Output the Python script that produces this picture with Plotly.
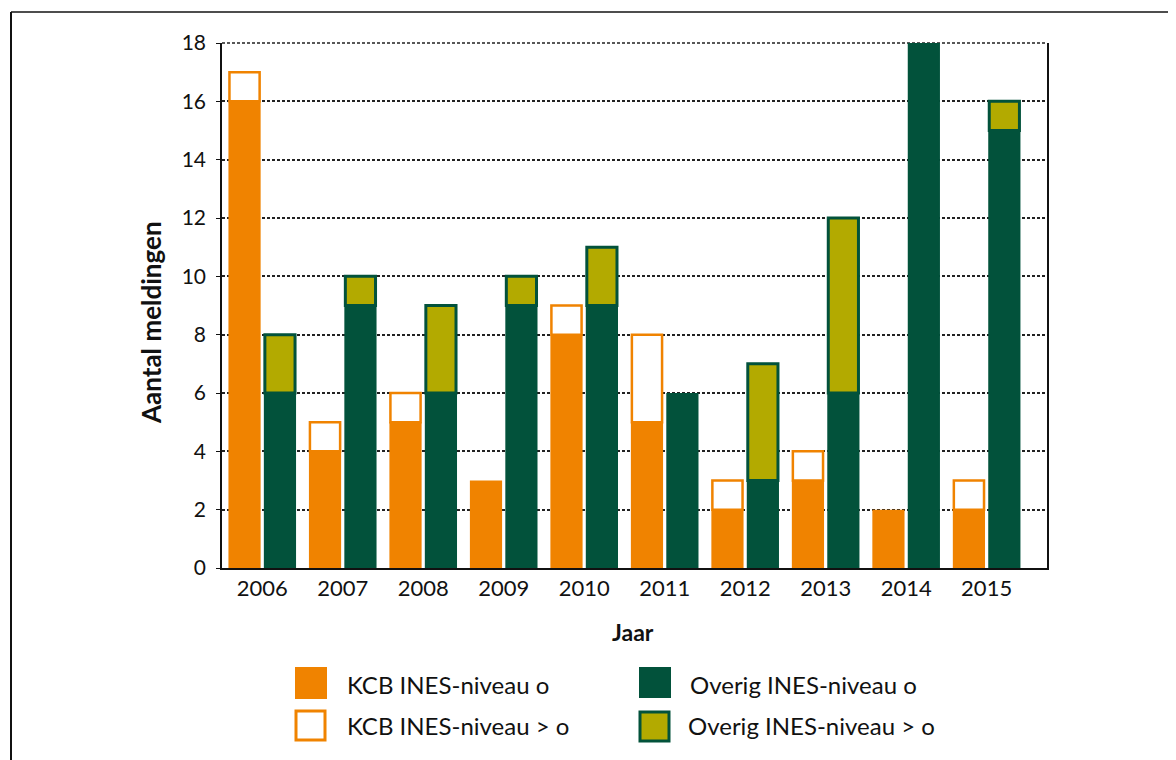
import plotly.graph_objects as go

years = ["2006", "2007", "2008", "2009", "2010", "2011", "2012", "2013", "2014", "2015"]
kcb_0 = [16, 4, 5, 3, 8, 5, 2, 3, 2, 2]
kcb_gt0 = [1, 1, 1, 0, 1, 3, 1, 1, 0, 1]
overig_0 = [6, 9, 6, 9, 9, 6, 3, 6, 18, 15]
overig_gt0 = [2, 1, 3, 1, 2, 0, 4, 6, 0, 1]
y_ticks = [0, 2, 4, 6, 8, 10, 12, 14, 16, 18]

legend_labels = ["KCB INES-niveau o", "KCB INES-niveau > o",
                 "Overig INES-niveau o", "Overig INES-niveau > o"]

ORANGE = "#F08300"
GREEN = "#02523B"
OLIVE = "#B3AA00"
FONT = "Lato"

xs = list(range(len(years)))
BW = 0.4


def nz(v):
    return [None if a == 0 else a for a in v]


fig = go.Figure()
fig.add_trace(go.Bar(x=xs, y=kcb_0, width=BW, offset=-0.42,
                     marker=dict(color=ORANGE, line=dict(width=0)),
                     name=legend_labels[0]))
fig.add_trace(go.Bar(x=xs, y=nz(kcb_gt0), base=kcb_0, width=BW - 0.025, offset=-0.42 + 0.0125,
                     marker=dict(color="white", line=dict(color=ORANGE, width=2.5)),
                     name=legend_labels[1]))
fig.add_trace(go.Bar(x=xs, y=overig_0, width=BW, offset=0.02,
                     marker=dict(color=GREEN, line=dict(width=0)),
                     name=legend_labels[2]))
fig.add_trace(go.Bar(x=xs, y=nz(overig_gt0), base=overig_0, width=BW - 0.025, offset=0.02 + 0.0125,
                     marker=dict(color=OLIVE, line=dict(color=GREEN, width=3)),
                     name=legend_labels[3]))

# The page has an 8px body margin: screen px = figure px + 8
OFF = 8
FW, FH = 1176 - OFF, 760 - OFF
# Plot area on screen: x 222..1047 px, y 43..568 px
L, R, T, B = 222, 1047, 43, 568
W, H = R - L, B - T


def px(x):
    return (x - L) / W


def py(y):
    return (B - y) / H


shapes = [
    # top gridline (plotly culls the gridline at the range edge)
    dict(type="line", xref="paper", yref="paper", x0=0, x1=1, y0=1, y1=1,
         line=dict(color="#222", width=1.5, dash="3px,2px"), layer="below"),
    dict(type="line", xref="paper", yref="paper", x0=px(11), x1=px(1190), y0=py(12), y1=py(12),
         line=dict(color="#4d4d4d", width=2)),
    dict(type="line", xref="paper", yref="paper", x0=px(11), x1=px(11), y0=py(12), y1=py(780),
         line=dict(color="#111111", width=2)),
    # legend swatches
    dict(type="rect", xref="paper", yref="paper", x0=px(295), x1=px(327), y0=py(667), y1=py(699),
         fillcolor=ORANGE, line=dict(width=0)),
    dict(type="rect", xref="paper", yref="paper", x0=px(296), x1=px(325), y0=py(711), y1=py(740),
         fillcolor="white", line=dict(color=ORANGE, width=3)),
    dict(type="rect", xref="paper", yref="paper", x0=px(639), x1=px(671), y0=py(667), y1=py(698),
         fillcolor=GREEN, line=dict(width=0)),
    dict(type="rect", xref="paper", yref="paper", x0=px(640), x1=px(669), y0=py(712), y1=py(741),
         fillcolor=OLIVE, line=dict(color=GREEN, width=3)),
]

annotations = [
    dict(text="<b>Aantal meldingen</b>", xref="paper", yref="paper", x=px(151), y=py(323),
         textangle=-90, showarrow=False, xanchor="center", yanchor="middle",
         font=dict(size=26, color="#111", family=FONT)),
    dict(text="<b>Jaar</b>", xref="paper", yref="paper", x=px(633), y=py(632),
         showarrow=False, xanchor="center", yanchor="middle",
         font=dict(size=23, color="#111", family=FONT)),
]
leg_pos = [(345, 684), (345, 725), (688, 684), (686, 725)]
for lab, (lx, ly) in zip(legend_labels, leg_pos):
    annotations.append(dict(text=lab, xref="paper", yref="paper", x=px(lx), y=py(ly),
                            showarrow=False, xanchor="left", yanchor="middle",
                            font=dict(size=24, color="#111", family=FONT)))

fig.update_layout(
    width=FW, height=FH,
    margin=dict(l=L - OFF, r=FW - (R - OFF), t=T - OFF, b=FH - (B - OFF)),
    paper_bgcolor="white", plot_bgcolor="white",
    barmode="overlay", showlegend=False,
    font=dict(family=FONT, size=21, color="#111"),
    shapes=shapes, annotations=annotations,
)
fig.update_xaxes(
    range=[-0.5, 9.75], tickvals=xs, ticktext=years, showgrid=False,
    showline=True, linecolor="#111", linewidth=2, ticks="", zeroline=False,
    tickfont=dict(size=22, family=FONT, color="#111"),
)
fig.update_yaxes(
    range=[0, 18], tickvals=y_ticks, showgrid=True, gridcolor="#222", gridwidth=1.5,
    griddash="3px,2px", showline=True, mirror=True, linecolor="#111", linewidth=1.5,
    ticks="outside", ticklen=4, tickcolor="#111", zeroline=False,
    tickfont=dict(size=21, family=FONT, color="#111"), ticklabelstandoff=6,
)

fig.write_html("out.html")
